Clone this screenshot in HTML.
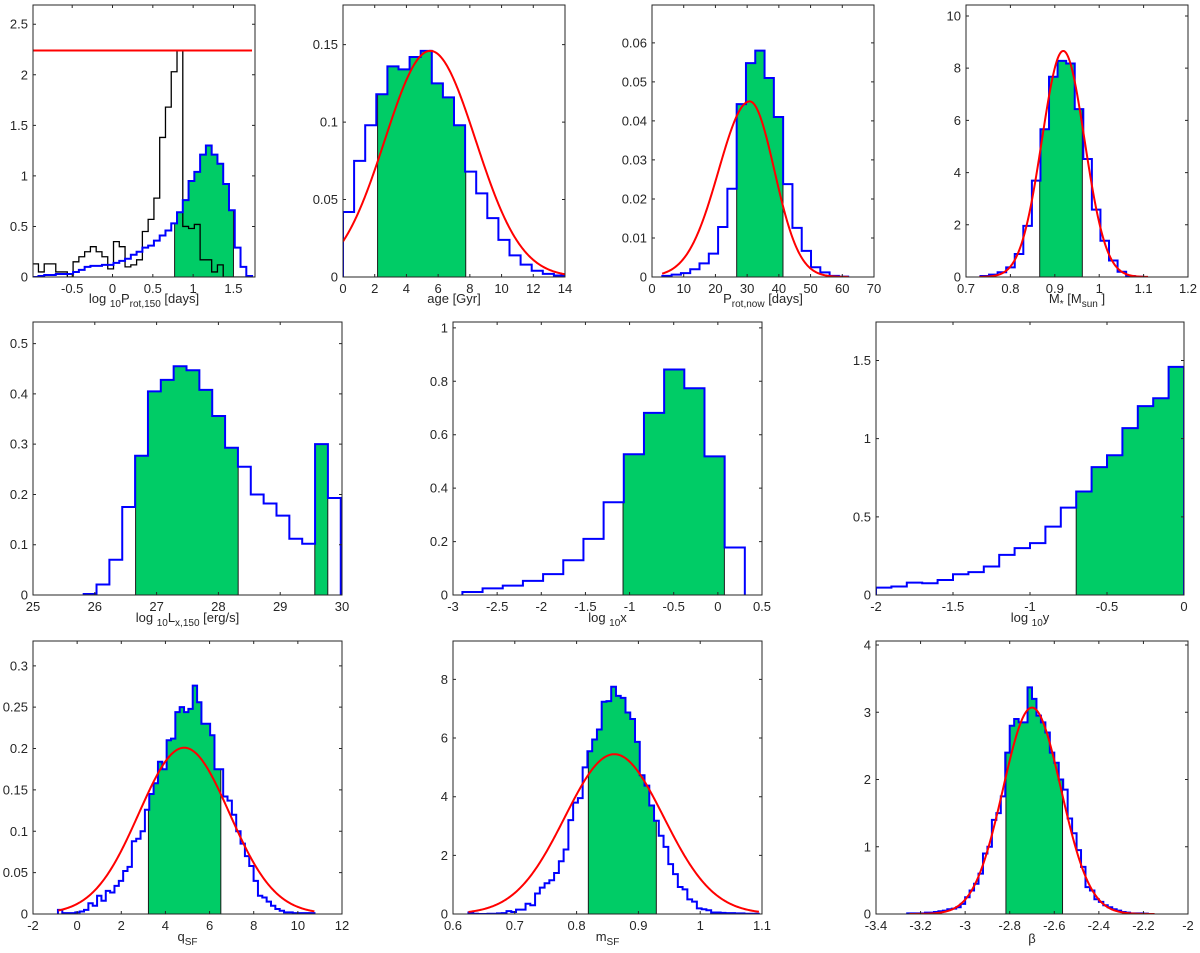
<!DOCTYPE html>
<html><head><meta charset="utf-8"><style>
html,body{margin:0;padding:0;background:#fff;}
svg{display:block;font-family:"Liberation Sans",Arial,sans-serif;}
</style></head><body>
<svg id="fig" width="1200" height="953" viewBox="0 0 1200 953" xmlns="http://www.w3.org/2000/svg">
<rect x="0" y="0" width="1200" height="953" fill="#fff"/>
</svg>
<script>
// ---------- data ----------
const p1BinStart=-0.99, p1BinWidth=0.0716;
const p1Blue=[0,0.01,0.02,0.02,0.03,0.03,0.03,0.05,0.07,0.1,0.11,0.11,0.12,0.12,0.14,0.16,0.18,0.22,0.25,0.29,0.31,0.36,0.41,0.46,0.53,0.64,0.76,0.95,1.04,1.21,1.3,1.21,1.12,0.92,0.66,0.29,0.1,0.01];
const p1Black=[0.13,0.05,0.13,0.13,0.05,0.05,0,0.15,0.2,0.25,0.3,0.25,0.2,0.08,0.35,0.3,0.1,0.12,0.17,0.45,0.57,0.78,1.38,1.68,2.03,2.24,0.5,0.48,0.52,0.17,0.17,0.05,0.12,0,0,0,0,0];
const p1Green=[0.77,1.5];
const p1RedLine=[-0.99,1.73,2.24];

const p2BinStart=0, p2BinWidth=0.7;
const p2Blue=[0.042,0.075,0.098,0.118,0.136,0.134,0.142,0.146,0.125,0.116,0.098,0.068,0.054,0.038,0.024,0.014,0.008,0.004,0.002,0.001];
const p2Green=[2.18,7.74];
const p2Fit=[0.146,5.5,2.86,2.86];
const p2FitRange=[0,14];

const p3BinStart=3.26, p3BinWidth=2.93;
const p3Blue=[0.0003,0.0006,0.001,0.002,0.0035,0.006,0.0128,0.0226,0.0443,0.0548,0.058,0.051,0.041,0.0238,0.0126,0.0067,0.0025,0.0012,0.0003,0.0001];
const p3Green=[26.7,41.3];
const p3Fit=[0.045,30.8,9.8,7.8];
const p3FitRange=[3.2,62];

const p4BinStart=0.7326, p4BinWidth=0.0193;
const p4Blue=[0.04,0.09,0.18,0.37,0.88,1.96,3.69,5.66,7.67,8.28,8.18,6.43,4.52,2.58,1.39,0.63,0.2,0.04,0.01];
const p4Green=[0.866,0.962];
const p4Fit=[8.66,0.919,0.048,0.048];
const p4FitRange=[0.73,1.11];

const p5BinStart=25.82, p5BinWidth=0.208;
const p5Blue=[0.002,0.021,0.07,0.175,0.277,0.405,0.428,0.455,0.447,0.408,0.356,0.293,0.255,0.2,0.182,0.158,0.112,0.102,0.3,0.193];
const p5Green=[26.66,28.32];
const p5Green2=[29.56,29.77];

const p6BinStart=-2.8935, p6BinWidth=0.2285;
const p6Blue=[0.011,0.025,0.035,0.053,0.078,0.13,0.21,0.347,0.527,0.682,0.844,0.774,0.519,0.178];
const p6Green=[-1.074,0.074];

const p7BinStart=-2, p7BinWidth=0.1;
const p7Blue=[0.047,0.054,0.079,0.075,0.096,0.133,0.146,0.182,0.257,0.3,0.332,0.437,0.559,0.662,0.818,0.894,1.067,1.208,1.258,1.459];
const p7Green=[-0.7,0];

const p8BinStart=-0.87, p8BinWidth=0.197;
const p8Blue=[0.005,0.001,0.001,0.001,0.002,0.003,0.005,0.013,0.01,0.022,0.016,0.028,0.026,0.034,0.04,0.052,0.057,0.088,0.091,0.1,0.126,0.145,0.158,0.184,0.175,0.21,0.212,0.244,0.25,0.244,0.248,0.276,0.256,0.23,0.23,0.216,0.175,0.175,0.142,0.137,0.12,0.1,0.085,0.07,0.058,0.04,0.022,0.02,0.015,0.01,0.006,0.004,0.002,0.002,0.001,0.001,0.001,0.001,0.001];
const p8Green=[3.23,6.51];
const p8Fit=[0.201,4.85,2.05,2.05];
const p8FitRange=[-0.85,10.75];

const p9BinStart=0.625, p9BinWidth=0.0077;
const p9Blue=[0.05,0.01,0,0,0.01,0.01,0.02,0.03,0.1,0.07,0.15,0.15,0.35,0.3,0.7,0.9,1.05,1.15,1.4,1.8,2.2,3.2,3.8,3.95,5.0,5.55,5.95,6.29,7.24,7.26,7.75,7.44,7.37,6.87,6.65,5.87,4.73,4.38,3.7,3.18,2.67,2.29,1.7,1.36,0.92,0.84,0.5,0.42,0.19,0.16,0.13,0.05,0.05,0.04,0.03,0.03,0.02,0.02,0.01,0.01,0.01];
const p9Green=[0.819,0.929];
const p9Fit=[5.45,0.861,0.08,0.08];
const p9FitRange=[0.625,1.095];

const p10BinStart=-3.26, p10BinWidth=0.02;
const p10Blue=[0.01,0.01,0.01,0.01,0.02,0.02,0.03,0.04,0.05,0.07,0.08,0.1,0.15,0.25,0.35,0.45,0.6,0.9,1.0,1.4,1.5,1.75,2.4,2.8,2.9,2.85,2.85,3.37,3.2,2.95,2.85,2.7,2.4,2.25,2.0,1.85,1.42,1.2,0.95,0.7,0.4,0.35,0.22,0.18,0.13,0.1,0.07,0.05,0.03,0.02,0.01,0.01,0.01,0.005,0];
const p10Green=[-2.817,-2.563];
const p10Fit=[3.07,-2.70,0.13,0.13];
const p10FitRange=[-3.25,-2.15];

const p1XTicks=[-0.5,0,0.5,1,1.5], p1YTicks=[0,0.5,1,1.5,2,2.5];
const p2XTicks=[0,2,4,6,8,10,12,14], p2YTicks=[0,0.05,0.1,0.15];
const p3XTicks=[0,10,20,30,40,50,60,70], p3YTicks=[0,0.01,0.02,0.03,0.04,0.05,0.06];
const p4XTicks=[0.7,0.8,0.9,1,1.1,1.2], p4YTicks=[0,2,4,6,8,10];
const p5XTicks=[25,26,27,28,29,30], p5YTicks=[0,0.1,0.2,0.3,0.4,0.5];
const p6XTicks=[-3,-2.5,-2,-1.5,-1,-0.5,0,0.5], p6YTicks=[0,0.2,0.4,0.6,0.8,1];
const p7XTicks=[-2,-1.5,-1,-0.5,0], p7YTicks=[0,0.5,1,1.5];
const p8XTicks=[-2,0,2,4,6,8,10,12], p8YTicks=[0,0.05,0.1,0.15,0.2,0.25,0.3];
const p9XTicks=[0.6,0.7,0.8,0.9,1,1.1], p9YTicks=[0,2,4,6,8];
const p10XTicks=[-3.4,-3.2,-3,-2.8,-2.6,-2.4,-2.2,-2], p10YTicks=[0,1,2,3,4];

// ---------- drawing ----------
const NS='http://www.w3.org/2000/svg';
const svg=document.getElementById('fig');
function mk(tag,attrs,parent){const e=document.createElementNS(NS,tag);for(const k in attrs)e.setAttribute(k,attrs[k]);(parent||svg).appendChild(e);return e;}
let clipN=0;
function panel(name,box,xlim,ylim){
  const g=mk('g',{});
  
  
  const [x0,x1,y0,y1]=box;
  const sx=v=>x0+(v-xlim[0])/(xlim[1]-xlim[0])*(x1-x0);
  const sy=v=>y1-(v-ylim[0])/(ylim[1]-ylim[0])*(y1-y0);
  const cid='clip'+(clipN++);
  const cp=mk('clipPath',{id:cid},g);
  mk('rect',{x:x0,y:y0,width:x1-x0,height:y1-y0},cp);
  const dg=mk('g',{'clip-path':'url(#'+cid+')'},g);
  return {g,dg,sx,sy,box};
}
function axes(p,xt,yt){
  const [x0,x1,y0,y1]=p.box;
  for(const v of xt){
    const x=p.sx(v);
    const t=mk('path',{d:`M${x},${y1}v-3M${x},${y0}v3`,stroke:'#262626','stroke-width':1,fill:'none'},p.g);
    
    
    const l=mk('text',{x:x,y:y1+16,'text-anchor':'middle','font-size':13,fill:'#262626'},p.g);
    l.textContent=String(v);
    
    
  }
  for(const v of yt){
    const y=p.sy(v);
    const t=mk('path',{d:`M${x0},${y}h3M${x1},${y}h-3`,stroke:'#262626','stroke-width':1,fill:'none'},p.g);
    
    
    const l=mk('text',{x:x0-5,y:y+4.5,'text-anchor':'end','font-size':13,fill:'#262626'},p.g);
    l.textContent=String(v);
    
    
  }
  const f=mk('rect',{x:x0,y:y0,width:x1-x0,height:y1-y0,fill:'none',stroke:'#262626','stroke-width':1},p.g);
  
  
}
function xlabel(p,segs,y){
  const [x0,x1]=p.box;
  const t=mk('text',{x:(x0+x1)/2,y:y,'text-anchor':'middle','font-size':13,fill:'#262626'},p.g);
  
  
  let sub=false;
  for(const [s,isSub] of segs){
    const ts=mk('tspan',{},t);
    if(isSub&&!sub){ts.setAttribute('dy','4');}
    if(!isSub&&sub){ts.setAttribute('dy','-4');}
    if(isSub)ts.setAttribute('font-size','10');
    ts.textContent=s;sub=isSub;
  }
}
function stairsPath(p,start,w,vals){
  let d=`M${p.sx(start)},${p.sy(0)}`;
  vals.forEach((v,i)=>{d+=`L${p.sx(start+i*w)},${p.sy(v)}L${p.sx(start+(i+1)*w)},${p.sy(v)}`;});
  d+=`L${p.sx(start+vals.length*w)},${p.sy(0)}`;
  return d;
}
function stairs(p,start,w,vals,color,width,name){
  const e=mk('path',{d:stairsPath(p,start,w,vals),fill:'none',stroke:color,'stroke-width':width,'stroke-linejoin':'miter'},p.dg);
  
  
}
function green(p,start,w,vals,rng,name){
  const [a,b]=rng;
  const val=x=>{const i=Math.min(vals.length-1,Math.max(0,Math.floor((x-start)/w+1e-9)));return vals[i];};
  let pts=[[a,0],[a,val(a)]];
  for(let i=1;i<vals.length;i++){const e=start+i*w;if(e>a&&e<b){pts.push([e,vals[i-1]]);pts.push([e,vals[i]]);}}
  pts.push([b,val(b-1e-9)]);pts.push([b,0]);
  const e=mk('polygon',{points:pts.map(q=>p.sx(q[0])+','+p.sy(q[1])).join(' '),fill:'#00cc66',stroke:'#1a1a1a','stroke-width':1},p.dg);
  
  
}
function fit(p,f,rng,name){
  const [A,mu,sl,sr]=f;let d='';
  for(let i=0;i<=300;i++){const x=rng[0]+(rng[1]-rng[0])*i/300;const s=x<mu?sl:sr;const y=A*Math.exp(-(x-mu)*(x-mu)/(2*s*s));d+=(i?'L':'M')+p.sx(x)+','+p.sy(y);}
  const e=mk('path',{d:d,fill:'none',stroke:'#ff0000','stroke-width':2},p.dg);
  
  
}
const BLUE='#0000ff';
const R1=[5,277],R2=[322,595],R3=[641,914];

// Panel 1
let p=panel('panel-log-prot-150',[33,255,R1[0],R1[1]],[-0.986,1.767],[0,2.69]);
green(p,p1BinStart,p1BinWidth,p1Blue,p1Green,'credible-interval-fill');
stairs(p,p1BinStart,p1BinWidth,p1Black,'#000',1.3,'prior-histogram');
stairs(p,p1BinStart,p1BinWidth,p1Blue,BLUE,2,'posterior-histogram');
const rl=mk('line',{x1:p.sx(p1RedLine[0]),x2:p.sx(p1RedLine[1]),y1:p.sy(p1RedLine[2]),y2:p.sy(p1RedLine[2]),stroke:'#ff0000','stroke-width':2},p.dg);


axes(p,p1XTicks,p1YTicks);
xlabel(p,[['log ',0],['10',1],['P',0],['rot,150',1],['  [days]',0]],303);

// Panel 2
p=panel('panel-age',[343,565,R1[0],R1[1]],[0,14],[0,0.1756]);
green(p,p2BinStart,p2BinWidth,p2Blue,p2Green,'credible-interval-fill');
stairs(p,p2BinStart,p2BinWidth,p2Blue,BLUE,2,'posterior-histogram');
fit(p,p2Fit,p2FitRange,'gaussian-fit');
axes(p,p2XTicks,p2YTicks);
xlabel(p,[['age [Gyr]',0]],303);

// Panel 3
p=panel('panel-prot-now',[652,874,R1[0],R1[1]],[0,70],[0,0.0697]);
green(p,p3BinStart,p3BinWidth,p3Blue,p3Green,'credible-interval-fill');
stairs(p,p3BinStart,p3BinWidth,p3Blue,BLUE,2,'posterior-histogram');
fit(p,p3Fit,p3FitRange,'gaussian-fit');
axes(p,p3XTicks,p3YTicks);
xlabel(p,[['P',0],['rot,now',1],['  [days]',0]],303);

// Panel 4
p=panel('panel-stellar-mass',[966,1188,R1[0],R1[1]],[0.7,1.2],[0,10.42]);
green(p,p4BinStart,p4BinWidth,p4Blue,p4Green,'credible-interval-fill');
stairs(p,p4BinStart,p4BinWidth,p4Blue,BLUE,2,'posterior-histogram');
fit(p,p4Fit,p4FitRange,'gaussian-fit');
axes(p,p4XTicks,p4YTicks);
xlabel(p,[['M',0],['*',1],[' [M',0],['sun',1],[' ]',0]],303);

// Panel 5
p=panel('panel-log-lx-150',[33,342,R2[0],R2[1]],[25,30],[0,0.543]);
green(p,p5BinStart,p5BinWidth,p5Blue,p5Green,'credible-interval-fill');
green(p,p5BinStart,p5BinWidth,p5Blue,p5Green2,'credible-interval-fill-2');
stairs(p,p5BinStart,p5BinWidth,p5Blue,BLUE,2,'posterior-histogram');
axes(p,p5XTicks,p5YTicks);
xlabel(p,[['log ',0],['10',1],['L',0],['x,150',1],['  [erg/s]',0]],622);

// Panel 6
p=panel('panel-log-x',[453,762,R2[0],R2[1]],[-3,0.5],[0,1.022]);
green(p,p6BinStart,p6BinWidth,p6Blue,p6Green,'credible-interval-fill');
stairs(p,p6BinStart,p6BinWidth,p6Blue,BLUE,2,'posterior-histogram');
axes(p,p6XTicks,p6YTicks);
xlabel(p,[['log ',0],['10',1],['x',0]],622);

// Panel 7
p=panel('panel-log-y',[876,1184,R2[0],R2[1]],[-2,0],[0,1.746]);
green(p,p7BinStart,p7BinWidth,p7Blue,p7Green,'credible-interval-fill');
stairs(p,p7BinStart,p7BinWidth,p7Blue,BLUE,2,'posterior-histogram');
axes(p,p7XTicks,p7YTicks);
xlabel(p,[['log ',0],['10',1],['y',0]],622);

// Panel 8
p=panel('panel-q-sf',[33,342,R3[0],R3[1]],[-2,12],[0,0.330]);
green(p,p8BinStart,p8BinWidth,p8Blue,p8Green,'credible-interval-fill');
stairs(p,p8BinStart,p8BinWidth,p8Blue,BLUE,2,'posterior-histogram');
fit(p,p8Fit,p8FitRange,'gaussian-fit');
axes(p,p8XTicks,p8YTicks);
xlabel(p,[['q',0],['SF',1]],941);

// Panel 9
p=panel('panel-m-sf',[453,762,R3[0],R3[1]],[0.6,1.1],[0,9.31]);
green(p,p9BinStart,p9BinWidth,p9Blue,p9Green,'credible-interval-fill');
stairs(p,p9BinStart,p9BinWidth,p9Blue,BLUE,2,'posterior-histogram');
fit(p,p9Fit,p9FitRange,'gaussian-fit');
axes(p,p9XTicks,p9YTicks);
xlabel(p,[['m',0],['SF',1]],941);

// Panel 10
p=panel('panel-beta',[876,1188,R3[0],R3[1]],[-3.4,-2],[0,4.06]);
green(p,p10BinStart,p10BinWidth,p10Blue,p10Green,'credible-interval-fill');
stairs(p,p10BinStart,p10BinWidth,p10Blue,BLUE,2,'posterior-histogram');
fit(p,p10Fit,p10FitRange,'gaussian-fit');
axes(p,p10XTicks,p10YTicks);
xlabel(p,[['β',0]],943);
</script>
</body></html>
